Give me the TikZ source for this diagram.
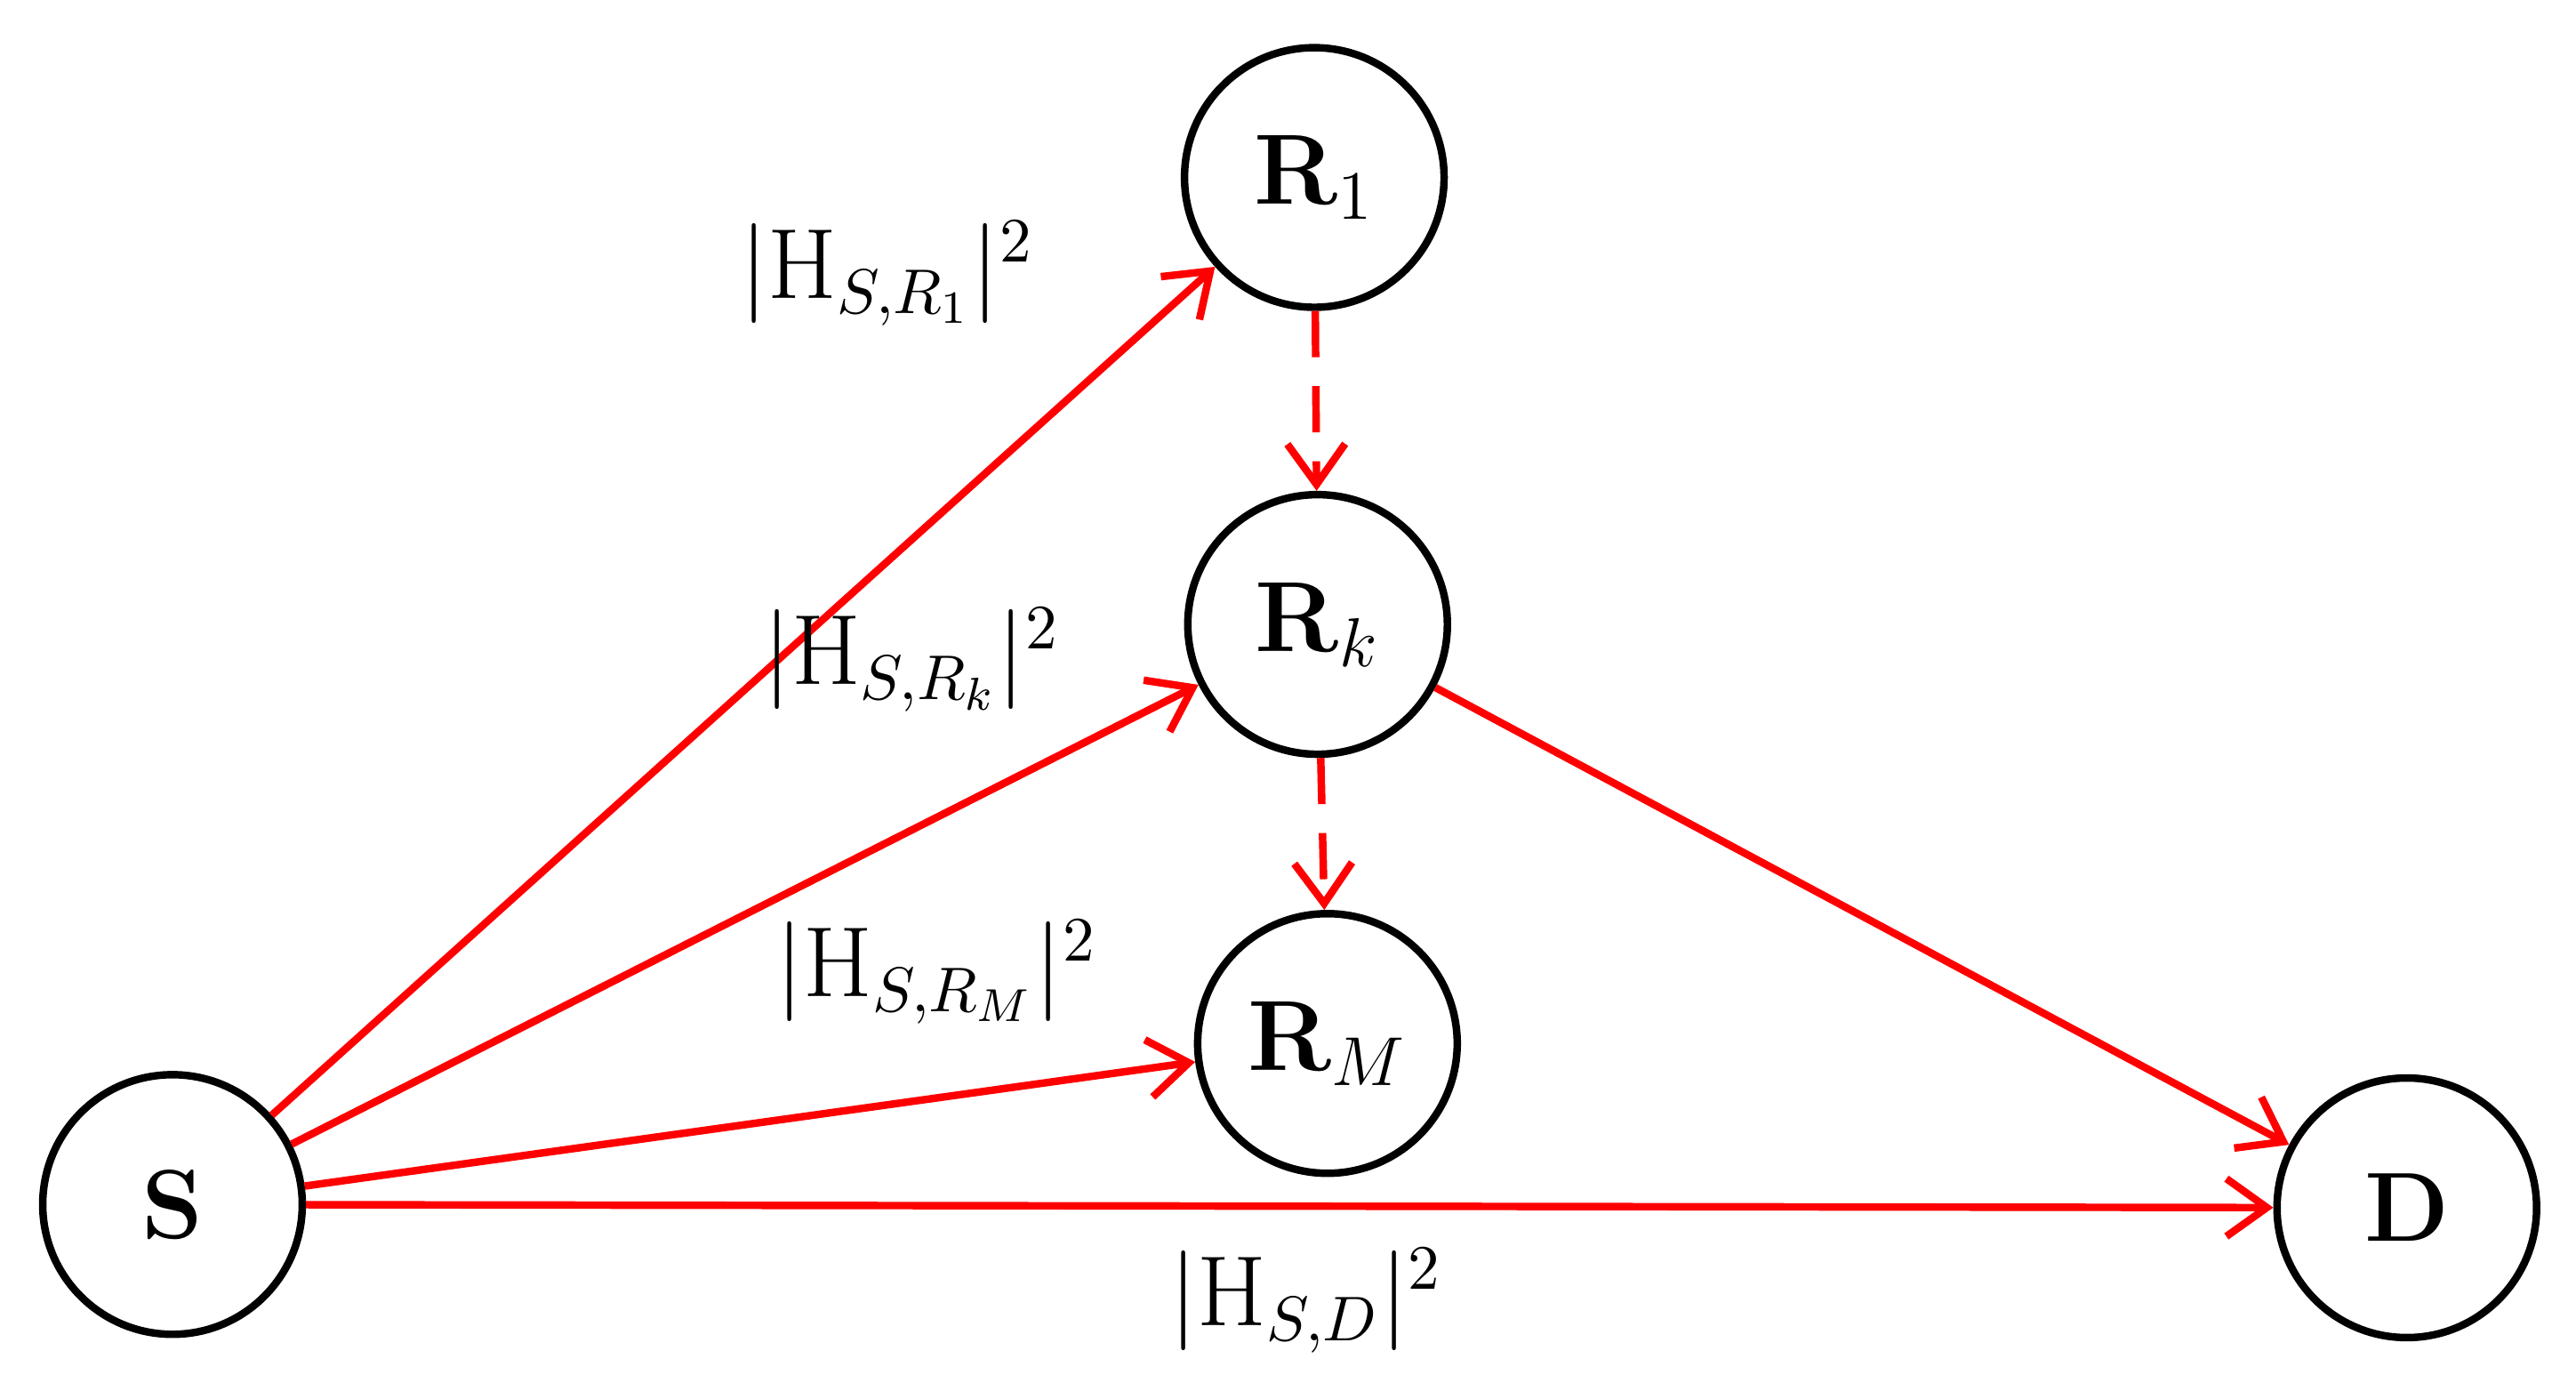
\documentclass[tikz,border=0pt]{standalone}
\usetikzlibrary{arrows.meta}
\begin{document}
\begin{tikzpicture}
\useasboundingbox (0,0) rectangle (15.68,8.415);
\tikzset{nd/.style={circle,draw,line width=1.3pt,minimum size=1.58cm,inner sep=0pt,font=\fontsize{17}{20}\selectfont\bfseries},
ln/.style={red,line width=1.3pt,-{Straight Barb[length=7pt,width=10pt,line width=1.3pt]}},
lb/.style={font=\fontsize{16}{20}\selectfont}}
\node[nd] (S) at (1.05,1.085) {S};
\node[nd] (R1) at (8.0,7.335) {$\mathbf{R}_1$};
\node[nd] (Rk) at (8.02,4.615) {$\mathbf{R}_k$};
\node[nd] (RM) at (8.08,2.065) {$\mathbf{R}_M$};
\node[nd] (D) at (14.65,1.065) {D};
\draw[ln] (S) -- (R1);
\draw[ln] (S) -- (Rk);
\draw[ln] (S) -- (RM);
\draw[ln] (S) -- (D);
\draw[ln] (Rk) -- (D);
\draw[ln,dashed,dash pattern=on 8pt off 5pt] (R1) -- (Rk);
\draw[ln,dashed,dash pattern=on 8pt off 5pt] (Rk) -- (RM);
\node[lb] (l1) at (5.4,6.75) {$|\mathrm{H}_{S,R_1}|^2$};
\node[lb] (l2) at (5.55,4.4) {$|\mathrm{H}_{S,R_k}|^2$};
\node[lb] (l3) at (5.7,2.5) {$|\mathrm{H}_{S,R_M}|^2$};
\node[lb] (l4) at (7.95,0.5) {$|\mathrm{H}_{S,D}|^2$};
\end{tikzpicture}
\end{document}
